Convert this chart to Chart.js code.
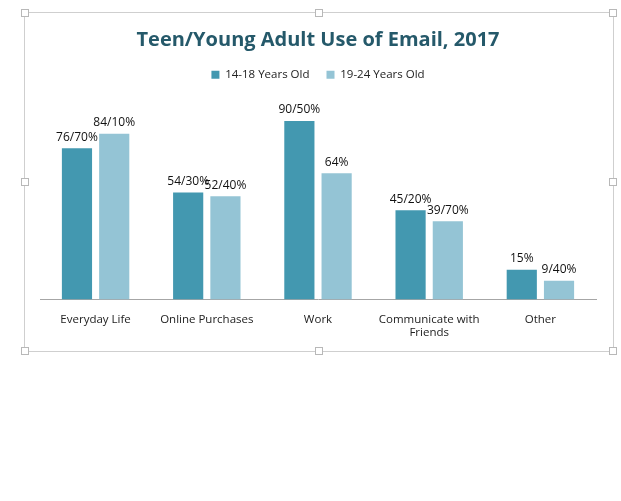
<!DOCTYPE html>
<html>
<head>
<meta charset="utf-8">
<script src="https://cdn.jsdelivr.net/npm/chart.js@4"></script>
<style>
  html, body { margin:0; padding:0; background:#fff; }
  #wrap { position:relative; width:621px; height:501px; }
  #frame { position:absolute; left:24px; top:12px; width:588px; height:338px; border:1px solid #cfcfcf; }
  .h { position:absolute; width:6px; height:6px; background:#fff; border:1px solid #b8b8b8; }
  canvas { position:absolute; left:0; top:0; }
</style>
</head>
<body>
<div id="wrap">
  <div id="frame"></div>
  <canvas id="mainChart" width="621" height="501"></canvas>
</div>
<script>
// Datos
const categories = ['Everyday Life', 'Online Purchases', 'Work', ['Communicate with', 'Friends'], 'Other'];
const teens = [76.7, 54.3, 90.5, 45.2, 15];
const youngAdults = [84.1, 52.4, 64, 39.7, 9.4];
const teenLabels = ['76/70%', '54/30%', '90/50%', '45/20%', '15%'];
const adultLabels = ['84/10%', '52/40%', '64%', '39/70%', '9/40%'];

// handles del marco
const wrap = document.getElementById('wrap');
[[24,12],[318,12],[612,12],[24,181],[612,181],[24,350],[318,350],[612,350]].forEach(p => {
  const d = document.createElement('div');
  d.className = 'h';
  d.style.left = (p[0]-3) + 'px';
  d.style.top = (p[1]-3) + 'px';
  wrap.appendChild(d);
});

const FONT = "'Open Sans', 'Noto Sans', sans-serif";

// etiquetas encima de las barras
const barLabels = {
  id: 'barLabels',
  afterDatasetsDraw(chart){
    const ctx = chart.ctx;
    const texts = [teenLabels, adultLabels];
    ctx.save();
    ctx.font = '12px ' + FONT;
    ctx.fillStyle = '#111';
    ctx.textAlign = 'center';
    ctx.textBaseline = 'bottom';
    chart.data.datasets.forEach((ds, i) => {
      chart.getDatasetMeta(i).data.forEach((bar, j) => {
        ctx.fillText(texts[i][j], bar.x, bar.y - 5);
      });
    });
    ctx.restore();
  }
};

const ctx = document.getElementById('mainChart').getContext('2d');
new Chart(ctx, {
  type: 'bar',
  data: {
    labels: categories,
    datasets: [
      { label: '14-18 Years Old', data: teens, backgroundColor: '#4398B0' },
      { label: '19-24 Years Old', data: youngAdults, backgroundColor: '#94C4D5' }
    ]
  },
  options: {
    responsive: false,
    animation: false,
    categoryPercentage: 0.67,
    barPercentage: 0.81,
    layout: { padding: { left: 40, right: 25, top: 14, bottom: 156 } },
    plugins: {
      title: {
        display: true,
        text: 'Teen/Young Adult Use of Email, 2017',
        color: '#25596A',
        font: { family: FONT, size: 20, weight: 'bold' },
        padding: { top: 14, bottom: 0 }
      },
      legend: {
        display: true,
        labels: {
          boxWidth: 8, boxHeight: 8,
          color: '#222',
          font: { family: FONT, size: 11.5 },
          padding: 17
        }
      },
      tooltip: { enabled: false }
    },
    scales: {
      x: {
        grid: { display: false },
        border: { color: '#a6a6a6' },
        ticks: { color: '#222', font: { family: FONT, size: 11.5 }, padding: 5, maxRotation: 0 }
      },
      y: { display: false, min: 0, max: 106 }
    }
  },
  plugins: [barLabels]
});
</script>
</body>
</html>
